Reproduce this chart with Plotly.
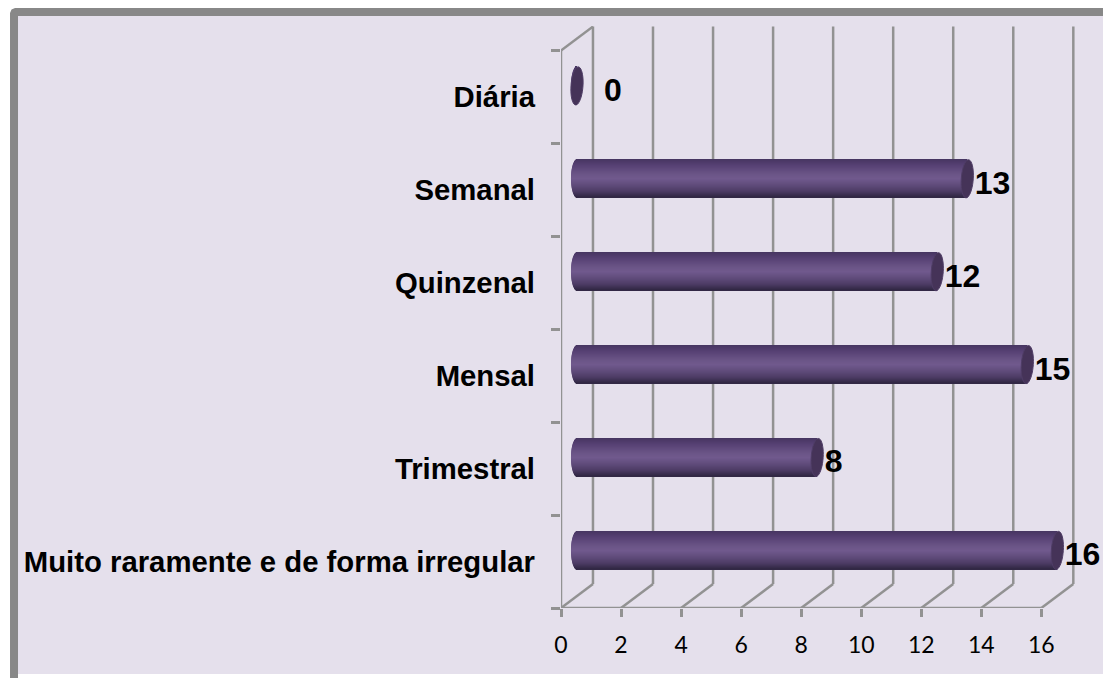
import numpy as np
import plotly.graph_objects as go

CATEGORIES = [
    "Muito raramente e de forma irregular",
    "Trimestral",
    "Mensal",
    "Quinzenal",
    "Semanal",
    "Diária",
]
VALUES = [16, 8, 15, 12, 13, 0]
X_TICKS = [0, 2, 4, 6, 8, 10, 12, 14, 16]

# cylinder shading, top to bottom
SHADE_STOPS = [0.0, 0.15, 0.4, 0.52, 0.7, 0.85, 1.0]
SHADE_RGB = [
    (70, 53, 96),
    (85, 63, 114),
    (107, 85, 135),
    (112, 89, 141),
    (94, 74, 121),
    (76, 59, 100),
    (47, 38, 66),
]

WIDTH, HEIGHT = 1103, 678
PLOT_LEFT, PLOT_RIGHT = 560.5, 1090.0
PLOT_TOP, PLOT_BOTTOM = 26.0, 608.0

PX_PER_X = 30.05
PX_PER_Y = 92.9
DEPTH_X = 32 / PX_PER_X
DEPTH_Y = 24 / PX_PER_Y

x_range = [0, (PLOT_RIGHT - PLOT_LEFT) / PX_PER_X]
y_range = [-0.5, -0.5 + (PLOT_BOTTOM - PLOT_TOP) / PX_PER_Y]
y_front_top = len(CATEGORIES) - 0.5

GRID = "#929292"
FRAME = "#888888"
grid_line = dict(color=GRID, width=2.5)

positions = list(range(len(CATEGORIES)))
bar_x0 = DEPTH_X * 0.5
bar_y_shift = 0.12
bar_half = 19 / PX_PER_Y
cap_x = 6 / PX_PER_X
n_strips = 38


def paper_x(px):
    return (px - PLOT_LEFT) / (PLOT_RIGHT - PLOT_LEFT)


def paper_y(py):
    return (PLOT_BOTTOM - py) / (PLOT_BOTTOM - PLOT_TOP)


def frame_path(points):
    return "M" + " L".join(f"{paper_x(a):.5f},{paper_y(b):.5f}" for a, b in points) + " Z"


def cap_path(x_c, y_c):
    # slightly leaning ellipse for the end of a cylinder
    t = np.linspace(0, 2 * np.pi, 41)
    xs = x_c + cap_x * np.cos(t) + 0.04 * np.sin(t)
    ys = y_c + bar_half * np.sin(t)
    return "M" + " L".join(f"{a:.3f},{b:.3f}" for a, b in zip(xs, ys)) + " Z"


fig = go.Figure()

# cylinder body, one pixel row per strip
strip_h = 2 * bar_half / n_strips
for i in range(n_strips):
    frac = (i + 0.5) / n_strips
    rgb = [np.interp(frac, SHADE_STOPS, [c[k] for c in SHADE_RGB]) for k in range(3)]
    bulge = cap_x * np.sqrt(1 - (2 * frac - 1) ** 2)
    fig.add_trace(
        go.Bar(
            y=positions,
            x=[v + bulge for v in VALUES],
            base=bar_x0 - bulge,
            orientation="h",
            offset=bar_y_shift + bar_half - (i + 1) * strip_h,
            width=strip_h * 1.3,
            marker=dict(color="rgb({:.0f},{:.0f},{:.0f})".format(*rgb), line_width=0),
            showlegend=False,
            hoverinfo="skip",
        )
    )

shapes = [
    # picture background and its frame
    dict(
        type="path", xref="paper", yref="paper", layer="below", line_width=0,
        fillcolor="#e5e0ec",
        path=frame_path([(17, 674), (17, 16), (WIDTH, 16), (WIDTH, 674)]),
    ),
    dict(
        type="path", xref="paper", yref="paper", layer="below", line_width=0,
        fillcolor=FRAME,
        path=frame_path(
            [(9, HEIGHT), (9, 13), (10.5, 9.5), (14, 8), (WIDTH, 8), (WIDTH, 16),
             (17, 16), (17, HEIGHT)]
        ),
    ),
]

# back wall and floor diagonals
for tick in X_TICKS:
    shapes.append(
        dict(
            type="line", layer="below", line=grid_line,
            x0=tick + DEPTH_X, x1=tick + DEPTH_X,
            y0=-0.5 + DEPTH_Y, y1=y_front_top + DEPTH_Y,
        )
    )
    shapes.append(
        dict(
            type="line", layer="below", line=grid_line,
            x0=tick, x1=tick + DEPTH_X,
            y0=-0.5, y1=-0.5 + DEPTH_Y,
        )
    )
shapes += [
    dict(type="line", layer="below", line=grid_line,
         x0=0, x1=DEPTH_X, y0=y_front_top, y1=y_front_top + DEPTH_Y),
    dict(type="line", layer="below", line=grid_line,
         x0=0, x1=0, y0=-0.5, y1=y_front_top),
    dict(type="line", layer="below", line=grid_line,
         x0=0, x1=X_TICKS[-1], y0=-0.5, y1=-0.5),
]

# end caps
for pos, value in zip(positions, VALUES):
    shapes.append(
        dict(
            type="path", layer="above",
            path=cap_path(value + bar_x0, pos + bar_y_shift),
            fillcolor="#453358",
            line=dict(color="#4f3d66", width=1),
        )
    )

# data labels
fig.add_trace(
    go.Scatter(
        x=[v + bar_x0 + cap_x + (21 if v == 0 else 1.5) / PX_PER_X for v in VALUES],
        y=[p + bar_y_shift - 0.075 for p in positions],
        text=[str(v) for v in VALUES],
        mode="text",
        textposition="middle right",
        textfont=dict(family="Liberation Sans", size=32, color="black", weight="bold"),
        showlegend=False,
        hoverinfo="skip",
        cliponaxis=False,
    )
)

fig.update_layout(
    width=WIDTH,
    height=HEIGHT,
    autosize=False,
    barmode="overlay",
    paper_bgcolor="white",
    plot_bgcolor="rgba(0,0,0,0)",
    margin=dict(
        l=PLOT_LEFT, r=WIDTH - PLOT_RIGHT, t=PLOT_TOP, b=HEIGHT - PLOT_BOTTOM, pad=0, autoexpand=False
    ),
    shapes=shapes,
    xaxis=dict(
        range=x_range,
        tickmode="array",
        tickvals=X_TICKS,
        ticks="outside",
        ticklen=8,
        tickwidth=2.5,
        tickcolor=GRID,
        ticklabelstandoff=8,
        showgrid=False,
        zeroline=False,
        showline=False,
        tickfont=dict(family="Lato", size=23, color="black"),
    ),
    yaxis=dict(
        range=y_range,
        tickmode="array",
        tickvals=positions,
        ticktext=CATEGORIES,
        ticks="",
        ticklabelstandoff=25,
        showgrid=False,
        zeroline=False,
        showline=False,
        tickfont=dict(family="Liberation Sans", size=29.3, color="black", weight="bold"),
        minor=dict(
            tickmode="array",
            tickvals=[p - 0.5 for p in positions] + [y_front_top],
            ticks="outside",
            ticklen=9,
            tickwidth=2.5,
            tickcolor=GRID,
            showgrid=False,
        ),
    ),
)

fig.write_html(
    "out.html",
    config=dict(displayModeBar=False),
    post_script="document.body.style.margin='0';document.body.style.overflow='hidden';",
)
